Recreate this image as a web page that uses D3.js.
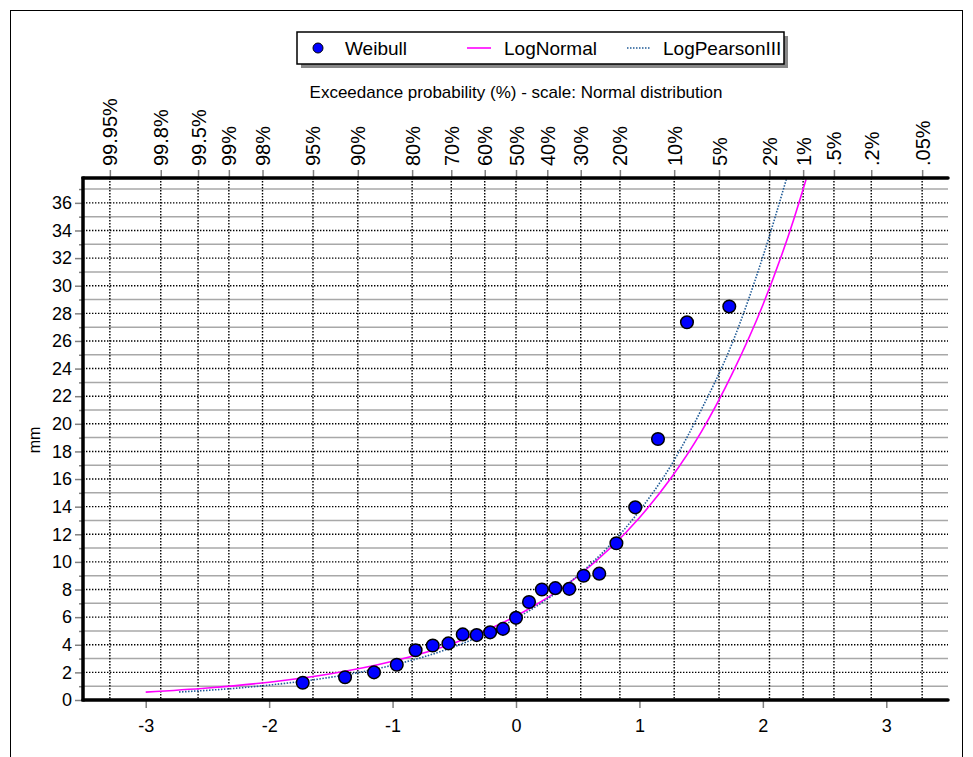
<!DOCTYPE html>
<html>
<head>
<meta charset="utf-8">
<style>
  body { margin: 0; background: #fff; }
  text { font-family: "Liberation Sans", Arial, sans-serif; fill: #000; }
</style>
</head>
<body>
<svg id="chart" width="973" height="757"></svg>
<script src="https://cdn.jsdelivr.net/npm/d3@7"></script>
<script>
    // top axis: exceedance probability (%)
    const probTicks = [99.95, 99.8, 99.5, 99, 98, 95, 90, 80, 70, 60, 50, 40, 30, 20, 10, 5, 2, 1, 0.5, 0.2, 0.05];
    const probLabels = ["99.95%", "99.8%", "99.5%", "99%", "98%", "95%", "90%", "80%", "70%", "60%", "50%",
                        "40%", "30%", "20%", "10%", "5%", "2%", "1%", ".5%", ".2%", ".05%"];
    // bottom axis: standard normal variate
    const zTicks = [-3, -2, -1, 0, 1, 2, 3];
    // left axis (mm)
    const mmTicks = [0, 2, 4, 6, 8, 10, 12, 14, 16, 18, 20, 22, 24, 26, 28, 30, 32, 34, 36];
    const mmMinor = [1, 3, 5, 7, 9, 11, 13, 15, 17, 19, 21, 23, 25, 27, 29, 31, 33, 35, 37];

    // Weibull plotting positions (exceedance %) and observed values
    const weibullProb = [95.8, 91.7, 87.5, 83.3, 79.2, 75.0, 70.8, 66.7, 62.5, 58.3, 54.2, 50.0,
                         45.8, 41.7, 37.5, 33.3, 29.2, 25.0, 20.8, 16.7, 12.5, 8.3, 4.2];
    const weibullMm = [1.25, 1.65, 2.0, 2.55, 3.6, 3.95, 4.1, 4.75, 4.7, 4.9, 5.15, 5.95,
                       7.1, 8.0, 8.1, 8.05, 9.0, 9.15, 11.35, 13.95, 18.9, 27.35, 28.5];

    // fitted curves (z, mm)
    const lnZ  = [-3, -2.5, -2, -1.5, -1, -0.5, 0, 0.5, 1, 1.25, 1.5, 1.75, 2, 2.25, 2.35];
    const lnMm = [0.57, 0.87, 1.29, 1.9, 2.8, 4.13, 6.08, 8.96, 13.2, 16.0, 19.4, 23.6, 28.6, 34.8, 37.7];
    const lp3Z  = [-2.73, -2.5, -2, -1.5, -1, -0.5, 0, 0.5, 1, 1.25, 1.5, 1.75, 2, 2.19];
    const lp3Mm = [0.58, 0.7, 1.08, 1.65, 2.52, 3.86, 5.9, 9.0, 13.7, 16.9, 21.0, 25.8, 32.1, 37.7];

    const pLeft = 83, pRight = 948, pTop = 178, pBottom = 700;
    const font = '"Liberation Sans", Arial, sans-serif';

    // inverse normal cdf (Acklam) -> probability scale
    function probit(p) {
        const a = [-39.6968302866538, 220.946098424521, -275.928510446969, 138.357751867269, -30.6647980661472, 2.50662827745924];
        const b = [-54.4760987982241, 161.585836858041, -155.698979859887, 66.8013118877197, -13.2806815528857];
        const c = [-0.00778489400243029, -0.322396458041136, -2.40075827716184, -2.54973253934373, 4.37466414146497, 2.93816398269878];
        const d = [0.00778469570904146, 0.32246712907004, 2.445134137143, 3.75440866190742];
        const pl = 0.02425;
        let q, r;
        if (p < pl) {
            q = Math.sqrt(-2 * Math.log(p));
            return (((((c[0]*q+c[1])*q+c[2])*q+c[3])*q+c[4])*q+c[5]) / ((((d[0]*q+d[1])*q+d[2])*q+d[3])*q+1);
        } else if (p <= 1 - pl) {
            q = p - 0.5; r = q * q;
            return (((((a[0]*r+a[1])*r+a[2])*r+a[3])*r+a[4])*r+a[5])*q / (((((b[0]*r+b[1])*r+b[2])*r+b[3])*r+b[4])*r+1);
        }
        q = Math.sqrt(-2 * Math.log(1 - p));
        return -(((((c[0]*q+c[1])*q+c[2])*q+c[3])*q+c[4])*q+c[5]) / ((((d[0]*q+d[1])*q+d[2])*q+d[3])*q+1);
    }
    const pz = p => probit(1 - p / 100);

    const x = d3.scaleLinear().domain([-3.5, 3.5]).range([84, 948]);
    const y = d3.scaleLinear().domain([0, 37.8]).range([pBottom, pTop]);

    const svg = d3.select("#chart");

    // outer frame
    svg.append("rect").attr("x", 10.5).attr("y", 10.5).attr("width", 952).attr("height", 770)
        .attr("fill", "none").attr("stroke", "#000").attr("stroke-width", 1);

    // grid
    const grid = svg.append("g");
    grid.selectAll(".minor").data(mmMinor).join("line")
        .attr("x1", pLeft).attr("x2", pRight)
        .attr("y1", d => y(d)).attr("y2", d => y(d))
        .attr("stroke", "#a8a8a8").attr("stroke-width", 1.5);
    grid.selectAll(".major").data(mmTicks.slice(1)).join("line")
        .attr("x1", pLeft).attr("x2", pRight)
        .attr("y1", d => y(d)).attr("y2", d => y(d))
        .attr("stroke", "#000").attr("stroke-width", 1.4).attr("stroke-dasharray", "1.4,1.6");
    grid.selectAll(".vert").data(probTicks).join("line")
        .attr("x1", d => x(pz(d))).attr("x2", d => x(pz(d)))
        .attr("y1", pTop).attr("y2", pBottom)
        .attr("stroke", "#000").attr("stroke-width", 1.4).attr("stroke-dasharray", "1.4,1.6");

    // axes
    const axL = svg.append("g").attr("transform", `translate(${pLeft},0)`)
        .call(d3.axisLeft(y).tickValues(mmTicks).tickSize(8).tickPadding(3));
    const axLm = svg.append("g").attr("transform", `translate(${pLeft},0)`)
        .call(d3.axisLeft(y).tickValues(mmMinor).tickSize(4).tickFormat(""));
    const axB = svg.append("g").attr("transform", `translate(0,${pBottom})`)
        .call(d3.axisBottom(x).tickValues(zTicks).tickSize(8).tickPadding(11).tickFormat(d => String(d)));
    const axT = svg.append("g").attr("transform", `translate(0,${pTop})`)
        .call(d3.axisTop(x).tickValues(probTicks.map(pz)).tickSize(8).tickFormat((d, i) => probLabels[i]));

    [axL, axLm, axB, axT].forEach(g => {
        g.attr("font-family", font);
        g.select(".domain").remove();
        g.selectAll(".tick line").attr("stroke", "#808080").attr("stroke-width", 1.5);
        g.selectAll(".tick text").attr("font-size", 18).attr("fill", "#000");
    });
    axT.selectAll(".tick text")
        .attr("transform", "rotate(-90)")
        .attr("text-anchor", "start")
        .attr("x", 12).attr("y", 0).attr("dy", "0.35em")
        .attr("font-size", 20);

    // curves
    const line = d3.line().x(d => x(d[0])).y(d => y(d[1])).curve(d3.curveMonotoneX);
    svg.append("path").datum(d3.zip(lnZ, lnMm)).attr("d", line)
        .attr("fill", "none").attr("stroke", "#ff00ff").attr("stroke-width", 1.6);
    svg.append("path").datum(d3.zip(lp3Z, lp3Mm)).attr("d", line)
        .attr("fill", "none").attr("stroke", "#1f5a96").attr("stroke-width", 1.6)
        .attr("stroke-dasharray", "1.5,1.5");

    // observed points
    svg.append("g").selectAll("circle").data(d3.zip(weibullProb, weibullMm)).join("circle")
        .attr("cx", d => x(pz(d[0]))).attr("cy", d => y(d[1])).attr("r", 6.3)
        .attr("fill", "#0000ff").attr("stroke", "#000").attr("stroke-width", 1.5);

    // thick axis lines
    svg.append("line").attr("x1", pLeft).attr("x2", pLeft).attr("y1", pTop - 1.5).attr("y2", pBottom + 1.5)
        .attr("stroke", "#000").attr("stroke-width", 3.5);
    svg.append("line").attr("x1", pLeft).attr("x2", pRight).attr("y1", pTop).attr("y2", pTop)
        .attr("stroke", "#000").attr("stroke-width", 3.5).attr("stroke-linecap", "round");
    svg.append("line").attr("x1", pLeft).attr("x2", pRight).attr("y1", pBottom).attr("y2", pBottom)
        .attr("stroke", "#000").attr("stroke-width", 3.5).attr("stroke-linecap", "round");

    // axis titles
    svg.append("text").attr("x", 516).attr("y", 98).attr("text-anchor", "middle").attr("font-size", 17)
        .text("Exceedance probability  (%) - scale: Normal distribution");
    svg.append("text").attr("transform", "translate(40,440) rotate(-90)").attr("text-anchor", "middle")
        .attr("font-size", 16).text("mm");

    // legend
    const lg = svg.append("g");
    lg.append("rect").attr("x", 301).attr("y", 36).attr("width", 487).attr("height", 32).attr("fill", "#888");
    lg.append("rect").attr("x", 297).attr("y", 32).attr("width", 487).attr("height", 32)
        .attr("fill", "#fff").attr("stroke", "#000").attr("stroke-width", 1.5);
    lg.append("circle").attr("cx", 318).attr("cy", 48).attr("r", 5).attr("fill", "#0000ff").attr("stroke", "#000");
    lg.append("text").attr("x", 345).attr("y", 55).attr("font-size", 19).text("Weibull");
    lg.append("line").attr("x1", 467).attr("x2", 491).attr("y1", 48).attr("y2", 48)
        .attr("stroke", "#ff00ff").attr("stroke-width", 1.6);
    lg.append("text").attr("x", 504).attr("y", 55).attr("font-size", 19).text("LogNormal");
    lg.append("line").attr("x1", 627).attr("x2", 650).attr("y1", 48).attr("y2", 48)
        .attr("stroke", "#1f5a96").attr("stroke-width", 1.6).attr("stroke-dasharray", "1.5,1.5");
    lg.append("text").attr("x", 663).attr("y", 55).attr("font-size", 19).text("LogPearsonIII");
</script>
</body>
</html>
